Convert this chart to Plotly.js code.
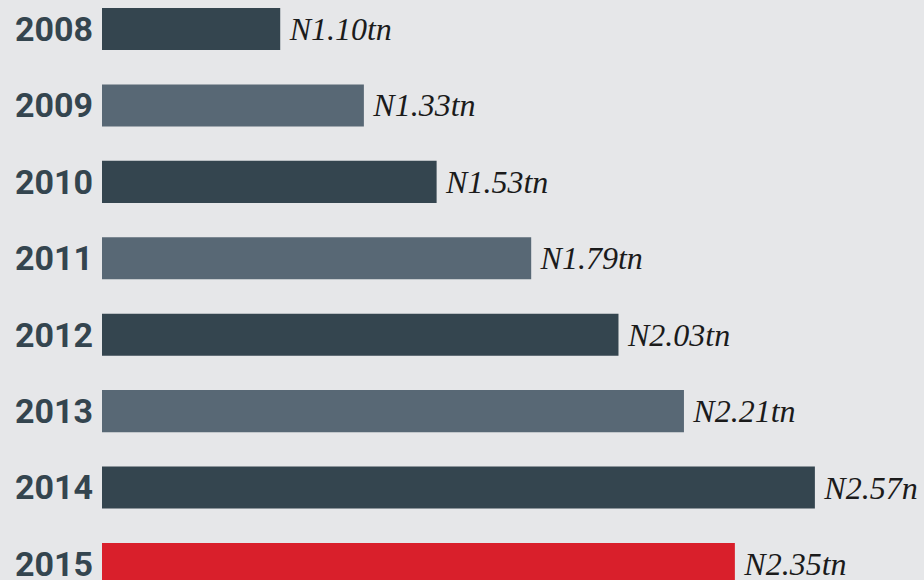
<!DOCTYPE html>
<html>
<head>
<meta charset="utf-8">
<script src="https://cdn.plot.ly/plotly-3.0.1.min.js"></script>
<style>
  html, body { margin: 0; padding: 0; background: #e6e7e9; }
  #chart { width: 924px; height: 580px; }
</style>
</head>
<body>
<div id="chart"></div>
<script>
const years = ['2008', '2009', '2010', '2011', '2012', '2013', '2014', '2015'];
const revenueTn = [1.10, 1.33, 1.53, 1.79, 2.03, 2.21, 2.57, 2.35];
const valueLabels = ['N1.10tn', 'N1.33tn', 'N1.53tn', 'N1.79tn', 'N2.03tn', 'N2.21tn', 'N2.57n', 'N2.35tn'];

const dark = '#34454f', light = '#586875', red = '#d91f2b';
const barColors = years.map((y, i) => y === '2015' ? red : (i % 2 ? light : dark));

const trace = {
    type: 'bar',
    orientation: 'h',
    y: years.map((_, i) => i),
    x: revenueTn,
    // thin space keeps the label a few px off the bar end
    text: valueLabels.map(t => '\u2009' + t),
    textposition: 'outside',
    cliponaxis: false,
    constraintext: 'none',
    textfont: { family: 'Liberation Serif, serif', size: 32, color: '#1b1b1b', style: 'italic' },
    marker: { color: barColors },
    width: 0.55,
    hoverinfo: 'none'
};

const layout = {
    width: 924,
    height: 580,
    margin: { t: 0, r: 0, b: 0, l: 102 },
    paper_bgcolor: '#e6e7e9',
    plot_bgcolor: '#e6e7e9',
    showlegend: false,
    xaxis: { range: [0.61, 2.87], visible: false, fixedrange: true },
    yaxis: {
        range: [7.21, -0.38],
        tickmode: 'array',
        tickvals: years.map((_, i) => i),
        ticktext: years,
        tickfont: { family: 'Roboto, sans-serif', size: 34, color: dark, weight: 'bold' },
        ticklabelstandoff: 8,
        ticklabeloverflow: 'allow',
        showgrid: false,
        zeroline: false,
        showline: false,
        ticks: ''
    }
};

Plotly.newPlot('chart', [trace], layout, { displayModeBar: false, staticPlot: true });
</script>
</body>
</html>
